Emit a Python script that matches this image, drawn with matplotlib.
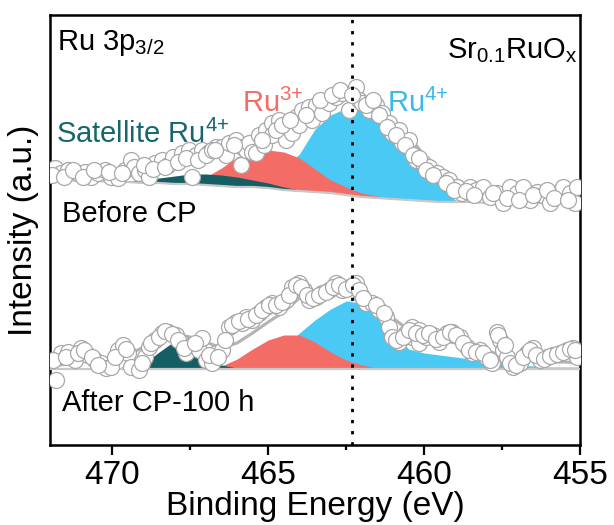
import numpy as np
import matplotlib.pyplot as plt

plt.rcParams['font.family'] = ['Liberation Sans', 'DejaVu Sans']
plt.rcParams['mathtext.fontset'] = 'custom'
plt.rcParams['mathtext.rm'] = 'Liberation Sans'
plt.rcParams['mathtext.default'] = 'regular'

# fit grid, 0.5 eV steps from 472 down to 455 eV
fit_ev = np.linspace(472, 455, 35)

# --- Before CP: fitted curves on fit_ev (component values are heights above the background)
before_base = [265, 265, 264, 264, 263, 263, 262, 262, 261, 261,
               260, 259, 258, 258, 257, 255, 254, 253, 252, 250,
               248, 247, 246, 245, 244, 243, 243, 243, 242, 242,
               242, 242, 242, 242, 242]
before_sat = [0, 0, 0, 0, 0, 1, 3, 5, 8, 10,
              11, 11, 10, 7, 5, 3, 1, 0, 0, 0,
              0, 0, 0, 0, 0, 0, 0, 0, 0, 0,
              0, 0, 0, 0, 0]
before_ru3 = [0, 0, 0, 0, 0, 0, 0, 0, 0, 3,
              8, 18, 30, 36, 38, 38, 33, 23, 13, 8,
              4, 2, 1, 0, 0, 0, 0, 0, 0, 0,
              0, 0, 0, 0, 0]
before_ru4 = [0, 0, 0, 0, 0, 0, 0, 0, 0, 0,
              0, 1, 3, 6, 12, 22, 37, 63, 78, 87,
              89, 81, 69, 57, 38, 17, 2, 0, 0, 0,
              0, 0, 0, 0, 0]
before_env = [267, 268, 268, 269, 269, 270, 272, 274, 277, 281,
              285, 293, 303, 309, 313, 319, 327, 340, 345, 347,
              345, 337, 325, 309, 290, 273, 260, 253, 250, 248,
              247, 247, 246, 246, 246]

# --- After CP-100 h
after_base = [76] * 35
after_sat = [0, 0, 0, 0, 0, 3, 5, 17, 28, 20,
             12, 4, 1, 0, 0, 0, 0, 0, 0, 0,
             0, 0, 0, 0, 0, 0, 0, 0, 0, 0,
             0, 0, 0, 0, 0]
after_ru3 = [0, 0, 0, 0, 0, 0, 0, 0, 0, 0,
             0, 3, 10, 20, 29, 34, 34, 27, 17, 9,
             4, 1, 0, 0, 0, 0, 0, 0, 0, 0,
             0, 0, 0, 0, 0]
after_ru4 = [1, 1, 1, 1, 1, 1, 1, 1, 1, 1,
             1, 2, 3, 6, 12, 22, 36, 49, 60, 68,
             66, 52, 36, 20, 16, 14, 12, 10, 8, 6,
             4, 3, 2, 2, 2]
after_env = [78, 81, 85, 85, 83, 90, 98, 106, 111, 108,
             103, 97, 102, 112, 123, 133, 147, 153, 155, 156,
             151, 140, 127, 115, 109, 105, 102, 98, 94, 90,
             87, 85, 83, 83, 82]

# measured points
before_ev = [471.83, 471.64, 471.42, 471.09, 470.87, 470.68, 470.45, 470.23, 470.03, 469.81,
             469.58, 469.39, 469.32, 469.16, 468.94, 468.84, 468.62, 468.42, 468.20, 468.04,
             467.78, 467.55, 467.46, 467.33, 467.14, 466.91, 466.68, 466.49, 466.36, 466.27,
             466.04, 465.88, 465.85, 465.72, 465.62, 465.53, 465.40, 465.30, 465.14, 465.08,
             464.88, 464.88, 464.66, 464.43, 464.43, 464.24, 464.11, 464.01, 463.92, 463.69,
             463.59, 463.47, 463.27, 463.05, 462.82, 462.63, 462.40, 462.18, 462.08, 461.99,
             461.76, 461.54, 461.34, 461.12, 461.02, 460.80, 460.70, 460.47, 460.25, 460.05,
             459.83, 459.60, 459.41, 459.19, 458.96, 458.77, 458.54, 458.32, 458.12, 457.90,
             457.67, 457.48, 457.25, 457.03, 456.84, 456.61, 456.39, 456.19, 455.97, 455.74,
             455.55, 455.32, 455.16, 455.10,
             471.95, 471.55, 471.25, 470.95, 470.60, 470.10, 469.70, 469.00, 468.70, 468.30,
             467.90, 467.65, 467.25, 467.00, 466.80, 466.70, 466.10, 465.20, 464.75, 464.55,
             464.30, 463.80, 463.35, 462.95, 462.70, 462.30, 461.85, 461.65, 461.45, 461.20,
             460.90, 460.60, 460.35, 460.15, 459.95, 459.70, 459.30, 459.05, 458.65, 458.40,
             457.80, 457.35, 456.95, 456.50, 456.05, 455.85, 455.40]
before_int = [277, 272, 275, 272, 273, 268, 272, 275, 268, 267,
              275, 285, 278, 272, 275, 268, 282, 285, 280, 288,
              292, 295, 268, 290, 295, 293, 298, 298, 290, 302,
              305, 280, 298, 295, 302, 293, 292, 310, 300, 315,
              322, 310, 325, 318, 305, 312, 328, 320, 335, 338,
              325, 340, 332, 342, 348, 352, 335, 358, 345, 342,
              335, 340, 332, 322, 312, 315, 302, 305, 285, 282,
              278, 272, 268, 265, 258, 252, 258, 255, 258, 248,
              252, 242, 258, 252, 258, 245, 253, 250, 242, 252,
              258, 252, 242, 258,
              270, 268, 275, 268, 275, 273, 272, 280, 276, 278,
              283, 287, 285, 290, 295, 295, 300, 305, 315, 320,
              325, 330, 345, 350, 355, 350, 340, 345, 330, 318,
              310, 300, 290, 287, 275, 270, 262, 255, 254, 250,
              252, 247, 245, 250, 255, 247, 245]

after_ev = [471.80, 471.64, 471.42, 471.19, 471.00, 470.77, 470.55, 470.35, 470.19, 470.03,
            469.81, 469.65, 469.49, 469.39, 469.16, 468.94, 468.84, 468.62, 468.42, 468.20,
            467.97, 467.78, 467.65, 467.46, 467.23, 467.14, 467.01, 466.81, 466.68, 466.49,
            466.27, 466.04, 465.85, 465.72, 465.53, 465.30, 465.08, 464.88, 464.66, 464.43,
            464.24, 464.01, 463.85, 463.69, 463.47, 463.27, 463.05, 462.82, 462.63, 462.40,
            462.18, 462.02, 461.86, 461.66, 461.44, 461.21, 461.12, 461.02, 460.80, 460.57,
            460.38, 460.38, 460.15, 460.15, 459.93, 459.73, 459.51, 459.28, 459.09, 458.86,
            458.64, 458.45, 458.22, 458.00, 457.83, 457.67, 457.58, 457.48, 457.35, 457.16,
            456.93, 456.71, 456.52, 456.29, 456.06, 455.87, 455.65, 455.42, 455.23, 455.10,
            471.90, 471.50, 471.10, 470.90, 470.65, 470.45, 469.90, 469.55, 469.05, 468.75,
            468.50, 468.30, 468.10, 467.90, 467.70, 467.35, 466.90, 466.60, 466.40, 466.15,
            465.95, 465.65, 465.40, 465.20, 464.98, 464.75, 464.55, 464.33, 464.12, 463.95,
            463.77, 463.58, 463.37, 463.15, 462.93, 462.72, 462.50, 462.28, 462.10, 461.95,
            461.55, 461.30, 460.90, 460.68, 460.48, 460.25, 460.05, 459.85, 459.62, 459.40,
            459.18, 458.97, 458.75, 458.55, 458.33, 458.10, 457.90, 457.62, 457.42, 457.25,
            457.05, 456.82, 456.60, 456.40, 456.17, 455.95, 455.75, 455.55, 455.33, 455.15]
after_int = [65, 92, 93, 85, 97, 90, 85, 82, 77, 78,
             95, 100, 92, 78, 75, 88, 98, 105, 112, 113,
             110, 102, 92, 100, 95, 107, 85, 82, 92, 95,
             118, 123, 122, 128, 125, 132, 138, 142, 138, 145,
             158, 162, 155, 145, 148, 152, 155, 162, 155, 158,
             162, 150, 142, 142, 135, 128, 118, 108, 103, 112,
             118, 108, 115, 102, 108, 110, 103, 112, 113, 108,
             98, 92, 95, 88, 82, 113, 105, 95, 88, 78,
             82, 92, 97, 85, 88, 90, 92, 95, 97, 88,
             85, 88, 92, 95, 88, 80, 88, 96, 82, 102,
             108, 114, 111, 105, 97, 102, 90, 88, 105, 120,
             124, 126, 130, 135, 140, 140, 143, 150, 160, 158,
             150, 147, 150, 153, 158, 160, 156, 160, 155, 147,
             140, 132, 105, 108, 115, 112, 110, 112, 106, 108,
             113, 110, 102, 95, 93, 92, 85, 110, 100, 82,
             80, 88, 95, 90, 86, 89, 91, 93, 96, 95]

teal = '#145e64'
red = '#f36c65'
blue = '#4ac9f5'
line_gray = '#b3b3b3'

fig = plt.figure(figsize=(6.14, 5.25), dpi=100)
ax = fig.add_axes([50 / 614, 80 / 525, 530 / 614, 430 / 525])


def draw_spectrum(base, sat, ru3, ru4, env, ev, inten):
    base = np.asarray(base, float)
    ax.fill_between(fit_ev, base, base + np.asarray(ru4), color=blue, lw=0, zorder=1)
    ax.fill_between(fit_ev, base, base + np.asarray(ru3), color=red, lw=0, zorder=2)
    ax.fill_between(fit_ev, base, base + np.asarray(sat), color=teal, lw=0, zorder=3)
    ax.plot(fit_ev, base, color='#c8c8c8', lw=1.6, zorder=4)
    ax.plot(fit_ev, env, color=line_gray, lw=2.2, zorder=4)
    ax.plot(ev, inten, 'o', ms=11.5, mfc='white', mec='#a8a8a8', mew=0.9, zorder=5)


draw_spectrum(before_base, before_sat, before_ru3, before_ru4, before_env, before_ev, before_int)
draw_spectrum(after_base, after_sat, after_ru3, after_ru4, after_env, after_ev, after_int)

ax.axvline(462.3, color='black', lw=2, ls=(0, (1.2, 2.8)), zorder=6)

ax.set_xlim(472, 455)
ax.set_ylim(0, 430)
ax.set_xticks([470, 465, 460, 455])
ax.set_xticks([467.5, 462.5, 457.5], minor=True)
ax.set_yticks([])
ax.tick_params(axis='x', which='major', direction='out', length=7, width=1.6,
               labelsize=24, pad=4)
ax.tick_params(axis='x', which='minor', direction='out', length=3.5, width=1.6)
for sp in ax.spines.values():
    sp.set_linewidth(1.8)

ax.set_xlabel('Binding Energy (eV)', fontsize=24, labelpad=0)
ax.set_ylabel('Intensity (a.u.)', fontsize=24)
ax.yaxis.set_label_coords(-0.02, 0.5)

tr = ax.transAxes
ax.text(0.013, 0.9186, r'Ru 3p$_{3/2}$', transform=tr, fontsize=21, va='baseline')
ax.text(0.996, 0.900, r'Sr$_{0.1}$RuO$_{x}$', transform=tr, fontsize=21,
        ha='right', va='baseline')
ax.text(0.362, 0.774, r'Ru$^{3{+}}$', transform=tr, fontsize=21, color=red, va='baseline')
ax.text(0.636, 0.774, r'Ru$^{4{+}}$', transform=tr, fontsize=21, color='#3bb8ea', va='baseline')
ax.text(0.011, 0.702, r'Satellite Ru$^{4{+}}$', transform=tr, fontsize=21, color='#15666e',
        va='baseline')
ax.text(0.023, 0.519, 'Before CP', transform=tr, fontsize=21, va='baseline')
ax.text(0.023, 0.079, 'After CP-100 h', transform=tr, fontsize=21, va='baseline')

fig.savefig('out.png', dpi=100)
